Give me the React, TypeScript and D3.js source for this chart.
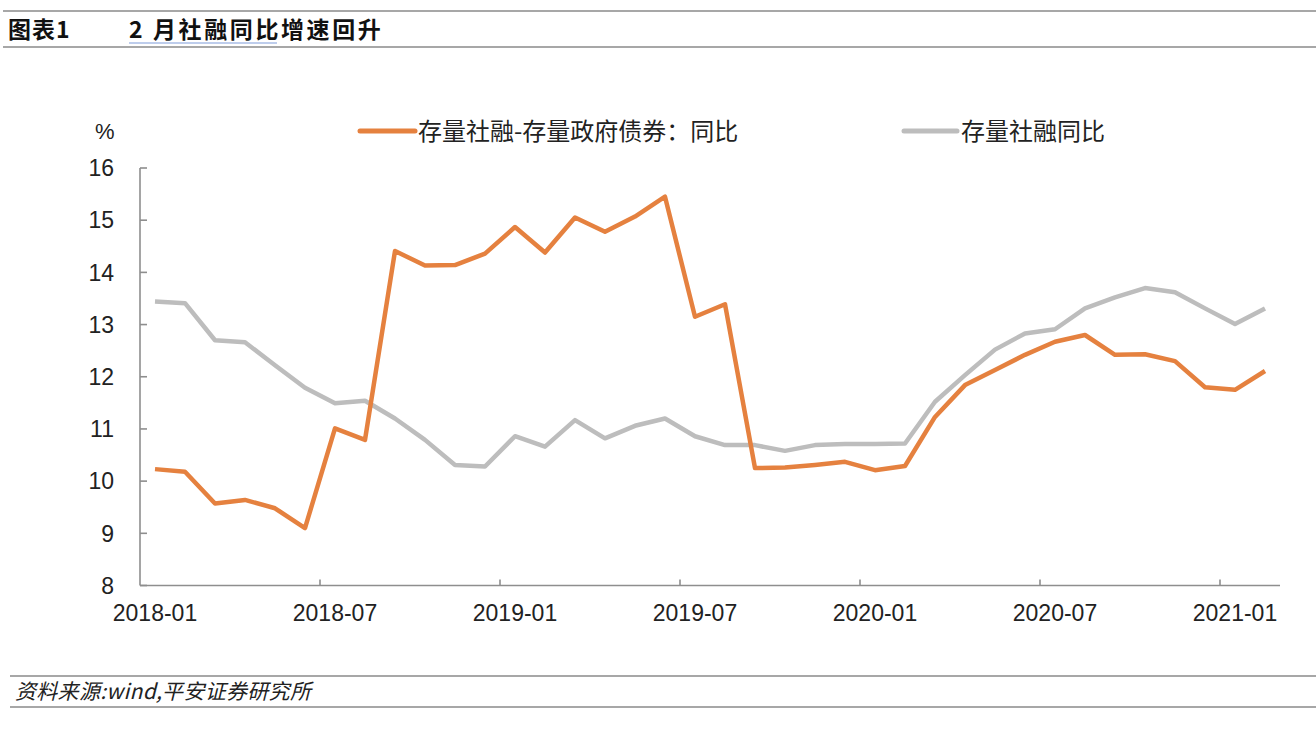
import React from 'react';
import * as d3 from 'd3';

// 月份（2018-01 至 2021-02）
const months: string[] = [
  '2018-01', '2018-02', '2018-03', '2018-04', '2018-05', '2018-06',
  '2018-07', '2018-08', '2018-09', '2018-10', '2018-11', '2018-12',
  '2019-01', '2019-02', '2019-03', '2019-04', '2019-05', '2019-06',
  '2019-07', '2019-08', '2019-09', '2019-10', '2019-11', '2019-12',
  '2020-01', '2020-02', '2020-03', '2020-04', '2020-05', '2020-06',
  '2020-07', '2020-08', '2020-09', '2020-10', '2020-11', '2020-12',
  '2021-01', '2021-02',
];

// 存量社融-存量政府债券：同比
const exGovBond: number[] = [
  10.23, 10.18, 9.57, 9.64, 9.48, 9.10,
  11.01, 10.79, 14.41, 14.13, 14.14, 14.36,
  14.87, 14.38, 15.05, 14.78, 15.07, 15.45,
  13.15, 13.39, 10.25, 10.26, 10.31, 10.37,
  10.21, 10.29, 11.23, 11.84, 12.13, 12.42,
  12.67, 12.80, 12.42, 12.43, 12.30, 11.80,
  11.75, 12.11,
];

// 存量社融同比
const tsfGrowth: number[] = [
  13.44, 13.41, 12.70, 12.66, 12.22, 11.79,
  11.49, 11.54, 11.20, 10.79, 10.31, 10.28,
  10.86, 10.66, 11.17, 10.82, 11.06, 11.20,
  10.86, 10.69, 10.69, 10.58, 10.69, 10.71,
  10.71, 10.72, 11.52, 12.03, 12.52, 12.83,
  12.91, 13.31, 13.52, 13.70, 13.62, 13.31,
  13.01, 13.31,
];

const yTicks: number[] = [8, 9, 10, 11, 12, 13, 14, 15, 16];
const xLabelMonths: string[] = ['2018-01', '2018-07', '2019-01', '2019-07', '2020-01', '2020-07', '2021-01'];

const seriesNames: string[] = ['存量社融-存量政府债券：同比', '存量社融同比'];

const W = 1316;
const H = 730;
const ORANGE = '#E5813F';
const GRAY = '#BDBDBD';
const AXIS = '#8E8E8E';
const FONT = '"Liberation Sans", Arial, "Noto Sans CJK SC", sans-serif';
const CJK = '"Noto Sans CJK SC", sans-serif';

const App: React.FC = () => {
  const x = d3.scaleBand<string>().domain(months).range([140, 1280]).padding(0);
  const y = d3.scaleLinear().domain([8, 16]).range([585.5, 168]);
  const cx = (m: string) => (x(m) || 0) + x.bandwidth() / 2;

  const line = d3.line<number>()
    .x((_, i) => cx(months[i]))
    .y(d => y(d));

  return (
    <svg
      width={W}
      height={H}
      viewBox={`0 0 ${W} ${H}`}
      style={{ position: 'absolute', left: 0, top: 0, background: '#fff' }}
      fontFamily={FONT}
    >
      <rect width={W} height={H} fill="#fff" />

      {/* 标题 */}
      <line x1={3} x2={W} y1={11} y2={11} stroke="#8a8a8a" strokeWidth={1.5} />
      <line x1={3} x2={W} y1={47} y2={47} stroke="#8a8a8a" strokeWidth={1.5} />
      <text x={8} y={38} fontSize={23} fontWeight="bold" fill="#111" letterSpacing={1}
        fontFamily={CJK}>图表1</text>
      <text x={129} y={38} fontSize={23} fontWeight="bold" fill="#111" letterSpacing={2.6}
        fontFamily={CJK}>2 月社融同比增速回升</text>
      <line x1={129} x2={277} y1={43} y2={43} stroke="#a9bce6" strokeWidth={1.5} />

      {/* 图例 */}
      <text x={95} y={139} fontSize={22} fill="#222">%</text>
      <line x1={360} x2={415} y1={131} y2={131} stroke={ORANGE} strokeWidth={5} strokeLinecap="round" />
      <text x={418} y={140} fontSize={24} fill="#222" fontFamily={CJK}>{seriesNames[0]}</text>
      <line x1={904} x2={957} y1={131} y2={131} stroke={GRAY} strokeWidth={5} strokeLinecap="round" />
      <text x={961} y={140} fontSize={24} fill="#222" fontFamily={CJK}>{seriesNames[1]}</text>

      {/* Y 轴 */}
      <line x1={140} x2={140} y1={y(16)} y2={y(8)} stroke={AXIS} strokeWidth={1.6} />
      {yTicks.map(t => (
        <g key={t}>
          <line x1={140} x2={147} y1={y(t)} y2={y(t)} stroke={AXIS} strokeWidth={1.6} />
          <text x={114} y={y(t)} dy="0.36em" textAnchor="end" fontSize={23} fill="#222">{t}</text>
        </g>
      ))}

      {/* X 轴 */}
      <line x1={140} x2={1280} y1={y(8)} y2={y(8)} stroke={AXIS} strokeWidth={1.6} />
      {xLabelMonths.map((m, i) => (
        <g key={m}>
          {i > 0 && (
            <line x1={x(m) || 0} x2={x(m) || 0} y1={y(8)} y2={y(8) - 6} stroke={AXIS} strokeWidth={1.6} />
          )}
          <text x={cx(m)} y={621} textAnchor="middle" fontSize={23} fill="#222">{m}</text>
        </g>
      ))}

      {/* 折线 */}
      <path d={line(tsfGrowth) || ''} fill="none" stroke={GRAY} strokeWidth={4.5} strokeLinejoin="round" />
      <path d={line(exGovBond) || ''} fill="none" stroke={ORANGE} strokeWidth={4.5} strokeLinejoin="round" />

      {/* 资料来源 */}
      <line x1={10} x2={W} y1={676} y2={676} stroke="#8a8a8a" strokeWidth={1.5} />
      <line x1={10} x2={W} y1={707} y2={707} stroke="#8a8a8a" strokeWidth={1.5} />
      <text x={15} y={699} fontSize={21} fontStyle="italic" fill="#222" letterSpacing={0.3}
        fontFamily={CJK}>资料来源:wind,平安证券研究所</text>
    </svg>
  );
};

export default App;
